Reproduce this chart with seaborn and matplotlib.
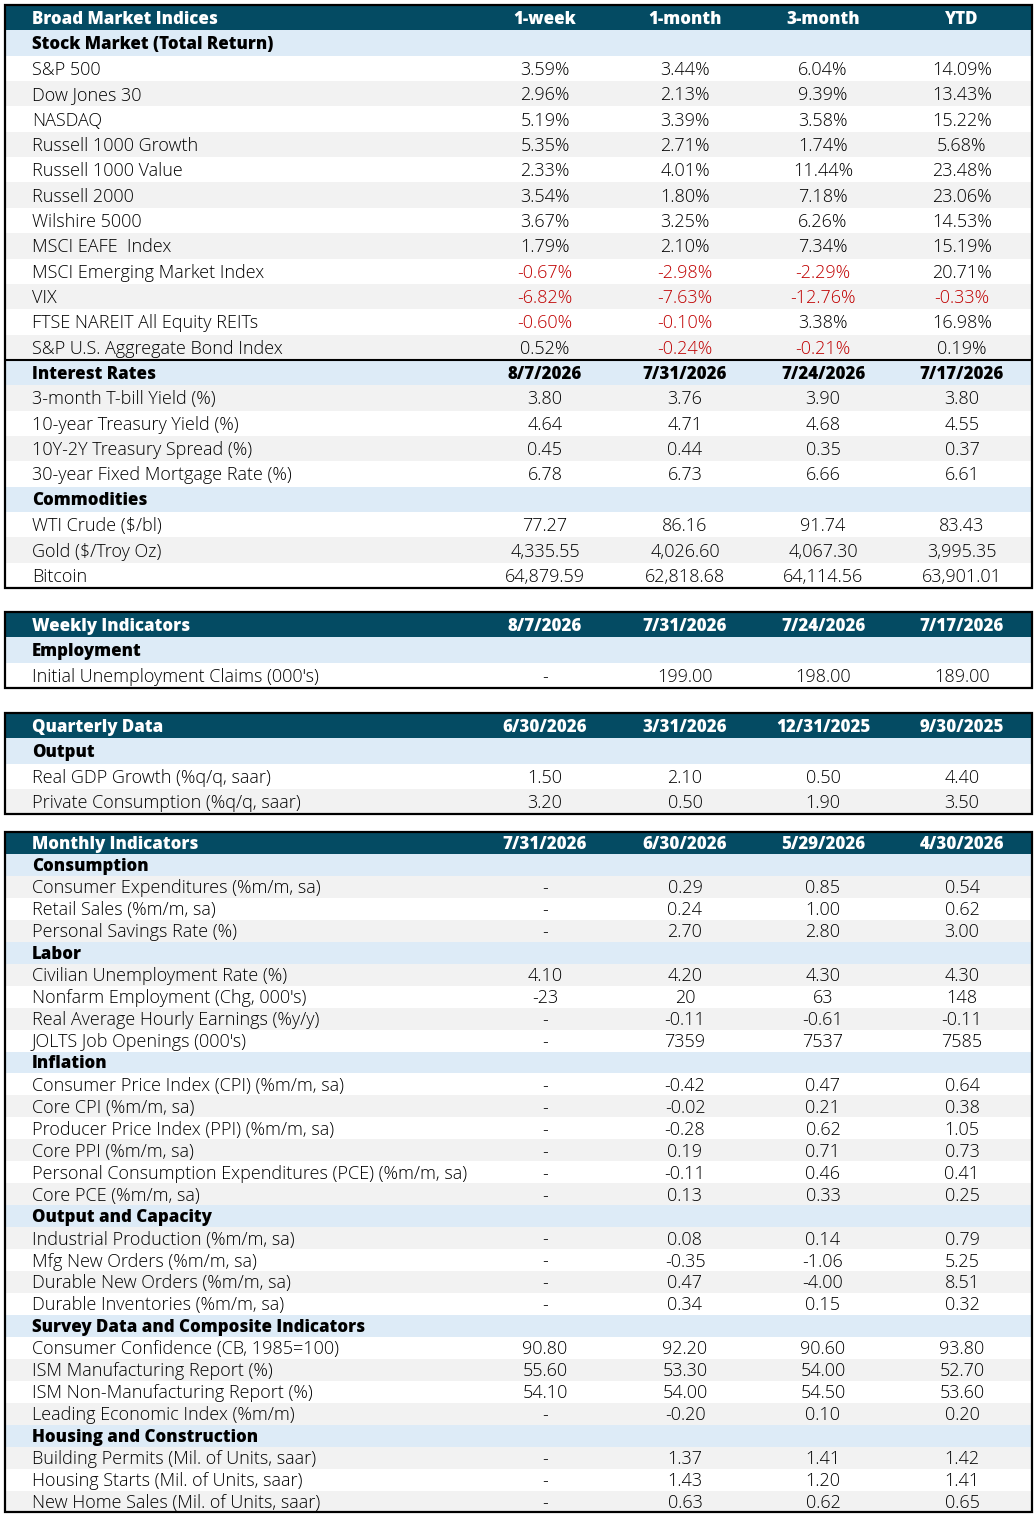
import matplotlib
matplotlib.use("Agg")
import matplotlib.pyplot as plt
from matplotlib.patches import Rectangle
import seaborn as sns

# ---------------- DATA ----------------
broad_cols = ["1-week", "1-month", "3-month", "YTD"]
weekly_dates = ["8/7/2026", "7/31/2026", "7/24/2026", "7/17/2026"]
quarterly_dates = ["6/30/2026", "3/31/2026", "12/31/2025", "9/30/2025"]
monthly_dates = ["7/31/2026", "6/30/2026", "5/29/2026", "4/30/2026"]

stock_labels = ["S&P 500", "Dow Jones 30", "NASDAQ", "Russell 1000 Growth",
                "Russell 1000 Value", "Russell 2000", "Wilshire 5000",
                "MSCI EAFE  Index", "MSCI Emerging Market Index", "VIX",
                "FTSE NAREIT All Equity REITs", "S&P U.S. Aggregate Bond Index"]
stock_values = [[3.59, 3.44, 6.04, 14.09],
                [2.96, 2.13, 9.39, 13.43],
                [5.19, 3.39, 3.58, 15.22],
                [5.35, 2.71, 1.74, 5.68],
                [2.33, 4.01, 11.44, 23.48],
                [3.54, 1.80, 7.18, 23.06],
                [3.67, 3.25, 6.26, 14.53],
                [1.79, 2.10, 7.34, 15.19],
                [-0.67, -2.98, -2.29, 20.71],
                [-6.82, -7.63, -12.76, -0.33],
                [-0.60, -0.10, 3.38, 16.98],
                [0.52, -0.24, -0.21, 0.19]]

rates_labels = ["3-month T-bill Yield (%)", "10-year Treasury Yield (%)",
                "10Y-2Y Treasury Spread (%)", "30-year Fixed Mortgage Rate (%)"]
rates_values = [[3.80, 3.76, 3.90, 3.80],
                [4.64, 4.71, 4.68, 4.55],
                [0.45, 0.44, 0.35, 0.37],
                [6.78, 6.73, 6.66, 6.61]]

commod_labels = ["WTI Crude ($/bl)", "Gold ($/Troy Oz)", "Bitcoin"]
commod_values = [[77.27, 86.16, 91.74, 83.43],
                 [4335.55, 4026.60, 4067.30, 3995.35],
                 [64879.59, 62818.68, 64114.56, 63901.01]]

employ_labels = ["Initial Unemployment Claims (000's)"]
employ_values = [[None, 199.00, 198.00, 189.00]]

output_q_labels = ["Real GDP Growth (%q/q, saar)", "Private Consumption (%q/q, saar)"]
output_q_values = [[1.50, 2.10, 0.50, 4.40],
                   [3.20, 0.50, 1.90, 3.50]]

consump_labels = ["Consumer Expenditures (%m/m, sa)", "Retail Sales (%m/m, sa)",
                  "Personal Savings Rate (%)"]
consump_values = [[None, 0.29, 0.85, 0.54],
                  [None, 0.24, 1.00, 0.62],
                  [None, 2.70, 2.80, 3.00]]

labor_labels = ["Civilian Unemployment Rate (%)", "Nonfarm Employment (Chg, 000's)",
                "Real Average Hourly Earnings (%y/y)", "JOLTS Job Openings (000's)"]
labor_values = [[4.10, 4.20, 4.30, 4.30],
                [-23, 20, 63, 148],
                [None, -0.11, -0.61, -0.11],
                [None, 7359, 7537, 7585]]
labor_fmts = ["{:.2f}", "{:.0f}", "{:.2f}", "{:.0f}"]

infl_labels = ["Consumer Price Index (CPI) (%m/m, sa)", "Core CPI (%m/m, sa)",
               "Producer Price Index (PPI) (%m/m, sa)", "Core PPI (%m/m, sa)",
               "Personal Consumption Expenditures (PCE) (%m/m, sa)", "Core PCE (%m/m, sa)"]
infl_values = [[None, -0.42, 0.47, 0.64],
               [None, -0.02, 0.21, 0.38],
               [None, -0.28, 0.62, 1.05],
               [None, 0.19, 0.71, 0.73],
               [None, -0.11, 0.46, 0.41],
               [None, 0.13, 0.33, 0.25]]

outcap_labels = ["Industrial Production (%m/m, sa)", "Mfg New Orders (%m/m, sa)",
                 "Durable New Orders (%m/m, sa)", "Durable Inventories (%m/m, sa)"]
outcap_values = [[None, 0.08, 0.14, 0.79],
                 [None, -0.35, -1.06, 5.25],
                 [None, 0.47, -4.00, 8.51],
                 [None, 0.34, 0.15, 0.32]]

survey_labels = ["Consumer Confidence (CB, 1985=100)", "ISM Manufacturing Report (%)",
                 "ISM Non-Manufacturing Report (%)", "Leading Economic Index (%m/m)"]
survey_values = [[90.80, 92.20, 90.60, 93.80],
                 [55.60, 53.30, 54.00, 52.70],
                 [54.10, 54.00, 54.50, 53.60],
                 [None, -0.20, 0.10, 0.20]]

housing_labels = ["Building Permits (Mil. of Units, saar)", "Housing Starts (Mil. of Units, saar)",
                  "New Home Sales (Mil. of Units, saar)"]
housing_values = [[None, 1.37, 1.41, 1.42],
                  [None, 1.43, 1.20, 1.41],
                  [None, 0.63, 0.62, 0.65]]

# ---------------- STYLE ----------------
sns.set_theme(style="white")
plt.rcParams['font.family'] = ['Open Sans', 'DejaVu Sans']

HEADER_BG = "#044b63"
SECTION_BG = "#ddebf7"
STRIPE_BG = "#f2f2f2"
NEG_RED = "#c00000"
BODY_W = "light"
HEAD_W = "heavy"
BODY_FS = 13.0
HEAD_FS = 12.2
DY = 1.5

fig = plt.figure(figsize=(10.36, 15.16), dpi=100)
ax = fig.add_axes([0, 0, 1, 1])
ax.set_xlim(0, 1036)
ax.set_ylim(1516, 0)
ax.axis("off")

X0, X1 = 5, 1032
LABEL_X = 32
COL_X = [545, 685, 823, 962]


def fmt_val(v, f):
    if v is None:
        return "-"
    return f.format(v)


def draw_table(top, rh, title, header_cols, sections, stripe_offset, red_neg=False,
               line_before=()):
    rows = [("header", title, header_cols, None)]
    for sec_title, sec_cols, labels, values, fmts in sections:
        rows.append(("section", sec_title, sec_cols, None))
        for lab, vals, f in zip(labels, values, fmts):
            rows.append(("data", lab, vals, f))
    n = len(rows)
    for i, (kind, lab, vals, f) in enumerate(rows):
        y = top + i * rh
        yc = y + rh / 2 + DY
        if kind == "header":
            ax.add_patch(Rectangle((X0, y), X1 - X0, rh, color=HEADER_BG, lw=0, zorder=1))
            ax.text(LABEL_X, yc, lab, color="white", fontsize=HEAD_FS, fontweight=HEAD_W,
                    va="center", ha="left", parse_math=False, zorder=3)
            for cx, c in zip(COL_X, vals):
                ax.text(cx, yc, c, color="white", fontsize=HEAD_FS, fontweight=HEAD_W,
                        va="center", ha="center", parse_math=False, zorder=3)
        elif kind == "section":
            ax.add_patch(Rectangle((X0, y), X1 - X0, rh, color=SECTION_BG, lw=0, zorder=1))
            ax.text(LABEL_X, yc, lab, color="black", fontsize=HEAD_FS, fontweight=HEAD_W,
                    va="center", ha="left", parse_math=False, zorder=3)
            if vals:
                for cx, c in zip(COL_X, vals):
                    ax.text(cx, yc, c, color="black", fontsize=HEAD_FS, fontweight=HEAD_W,
                            va="center", ha="center", parse_math=False, zorder=3)
            if lab in line_before:
                ax.plot([X0, X1], [y, y], color="black", lw=1.5, zorder=4,
                        solid_capstyle="butt")
        else:
            bg = STRIPE_BG if (i + stripe_offset) % 2 == 1 else "white"
            ax.add_patch(Rectangle((X0, y), X1 - X0, rh, color=bg, lw=0, zorder=1))
            ax.text(LABEL_X, yc, lab, color="black", fontsize=BODY_FS, fontweight=BODY_W,
                    va="center", ha="left", parse_math=False, zorder=3)
            for cx, v in zip(COL_X, vals):
                col = NEG_RED if (red_neg and v is not None and v < 0) else "black"
                ax.text(cx, yc, fmt_val(v, f), color=col, fontsize=BODY_FS, fontweight=BODY_W,
                        va="center", ha="center", parse_math=False, zorder=3)
    bottom = top + n * rh
    ax.add_patch(Rectangle((X0, top), X1 - X0, bottom - top, fill=False,
                           edgecolor="black", lw=1.6, zorder=5))


draw_table(5, 25.35, "Broad Market Indices", broad_cols, [
    ("Stock Market (Total Return)", None, stock_labels, stock_values, ["{:.2f}%"] * len(stock_labels)),
    ("Interest Rates", weekly_dates, rates_labels, rates_values, ["{:.2f}"] * len(rates_labels)),
    ("Commodities", None, commod_labels, commod_values, ["{:,.2f}"] * len(commod_labels)),
], 0, red_neg=True, line_before=("Interest Rates",))

draw_table(612, 25.35, "Weekly Indicators", weekly_dates, [
    ("Employment", None, employ_labels, employ_values, ["{:.2f}"]),
], 0)

draw_table(713, 25.35, "Quarterly Data", quarterly_dates, [
    ("Output", None, output_q_labels, output_q_values, ["{:.2f}"] * 2),
], 0)

draw_table(832, 21.95, "Monthly Indicators", monthly_dates, [
    ("Consumption", None, consump_labels, consump_values, ["{:.2f}"] * 3),
    ("Labor", None, labor_labels, labor_values, labor_fmts),
    ("Inflation", None, infl_labels, infl_values, ["{:.2f}"] * 6),
    ("Output and Capacity", None, outcap_labels, outcap_values, ["{:.2f}"] * 4),
    ("Survey Data and Composite Indicators", None, survey_labels, survey_values, ["{:.2f}"] * 4),
    ("Housing and Construction", None, housing_labels, housing_values, ["{:.2f}"] * 3),
], 1)

fig.savefig("out.png", dpi=100, facecolor="white")
